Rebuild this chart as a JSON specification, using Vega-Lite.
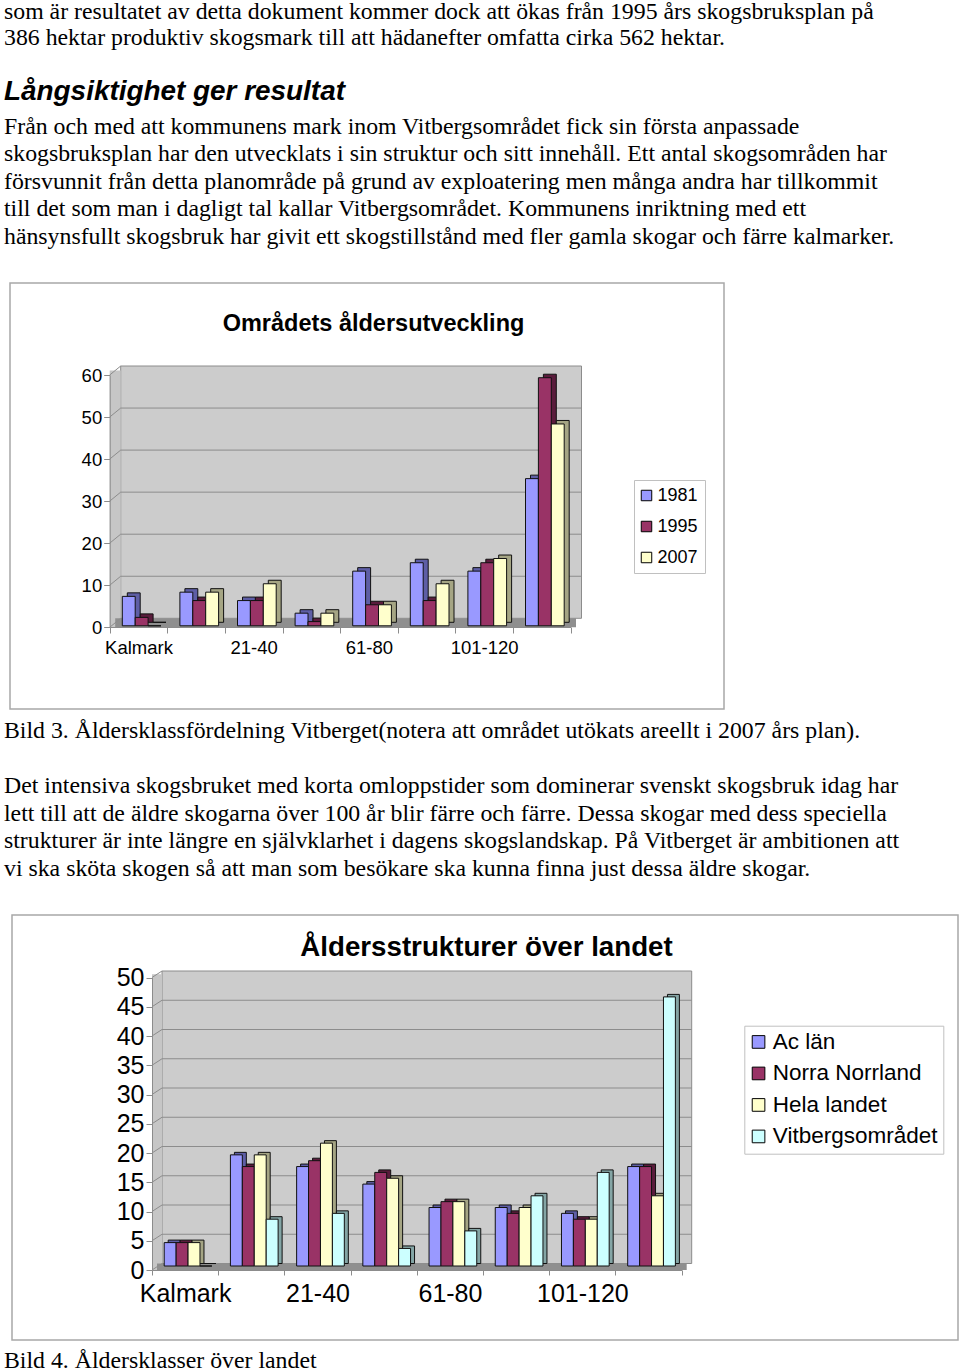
{
  "$schema": "https://vega.github.io/schema/vega-lite/v6.json",
  "background": "white",
  "padding": {"left": 4, "top": 0, "right": 0, "bottom": 0},
  "spacing": 0,
  "bounds": "flush",
  "vconcat": [
    {
      "width": 956,
      "height": 283,
      "layer": [
        {
          "data": {"values": [
            {"line": 1, "text": "som är resultatet av detta dokument kommer dock att ökas från 1995 års skogsbruksplan på"},
            {"line": 2, "text": "386 hektar produktiv skogsmark till att hädanefter omfatta cirka 562 hektar."}
          ]},
          "mark": {"type": "text", "align": "left", "baseline": "alphabetic", "font": "Liberation Serif", "fontSize": 23.8, "color": "#000"},
          "encoding": {
            "x": {"value": 0},
            "y": {"field": "line", "type": "quantitative", "scale": {"domain": [1, 2], "range": [19.2, 44.8], "nice": false, "zero": false}, "axis": null},
            "text": {"field": "text"}
          }
        },
        {
          "data": {"values": [{"line": 1, "text": "Långsiktighet ger resultat"}]},
          "mark": {"type": "text", "align": "left", "baseline": "alphabetic", "font": "Liberation Sans", "fontSize": 27.9, "fontWeight": "bold", "fontStyle": "italic", "color": "#000"},
          "encoding": {
            "x": {"value": 0},
            "y": {"field": "line", "type": "quantitative", "scale": {"domain": [0, 1], "range": [0, 99.5], "nice": false, "zero": false}, "axis": null},
            "text": {"field": "text"}
          }
        },
        {
          "data": {"values": [
            {"line": 3, "text": "Från och med att kommunens mark inom Vitbergsområdet fick sin första anpassade"},
            {"line": 4, "text": "skogsbruksplan har den utvecklats i sin struktur och sitt innehåll. Ett antal skogsområden har"},
            {"line": 5, "text": "försvunnit från detta planområde på grund av exploatering men många andra har tillkommit"},
            {"line": 6, "text": "till det som man i dagligt tal kallar Vitbergsområdet. Kommunens inriktning med ett"},
            {"line": 7, "text": "hänsynsfullt skogsbruk har givit ett skogstillstånd med fler gamla skogar och färre kalmarker."}
          ]},
          "mark": {"type": "text", "align": "left", "baseline": "alphabetic", "font": "Liberation Serif", "fontSize": 23.8, "color": "#000"},
          "encoding": {
            "x": {"value": 0},
            "y": {"field": "line", "type": "quantitative", "scale": {"domain": [3, 7], "range": [133.8, 243.5], "nice": false, "zero": false}, "axis": null},
            "text": {"field": "text"}
          }
        }
      ],
      "resolve": {"scale": {"y": "independent"}}
    },
    {
      "width": 720,
      "height": 426,
      "title": {"text": "Områdets åldersutveckling", "font": "Liberation Sans", "fontSize": 23.5, "fontWeight": "bold", "color": "#000", "anchor": "middle", "frame": "group", "orient": "top", "baseline": "alphabetic", "offset": -72.7, "dx": 9.5},
      "layer": [
        {
          "data": {"values": [{}]},
          "mark": {"type": "rect", "fill": "transparent", "stroke": "#A8A8A8", "strokeWidth": 1.5},
          "encoding": {
            "x": {"datum": 0, "type": "quantitative", "scale": {"domain": [0, 1], "range": [6, 720], "nice": false, "zero": false}, "axis": null},
            "x2": {"datum": 1},
            "y": {"datum": 0, "type": "quantitative", "scale": {"domain": [0, 1], "range": [0, 426], "nice": false, "zero": false}, "axis": null},
            "y2": {"datum": 1}
          }
        },
        {
          "layer": [
            {
              "data": {"values": [{}]},
              "mark": {"type": "rect", "fill": "#CCCCCC", "stroke": "#8C8C8C", "strokeWidth": 1, "xOffset": 11, "x2Offset": 11, "yOffset": -9, "y2Offset": -9},
              "encoding": {
                "x": {"datum": 0, "type": "quantitative", "scale": {"domain": [0, 1], "range": [105.7, 566.5], "nice": false, "zero": false}, "axis": null},
                "x2": {"datum": 1},
                "y": {"datum": 60, "type": "quantitative", "scale": {"domain": [0, 60], "range": [344.3, 92], "nice": false, "zero": false}, "axis": null},
                "y2": {"datum": 0}
              }
            },
            {
              "data": {"values": [{}]},
              "mark": {"type": "rect", "fill": "#C6C6C6", "x2Offset": 11, "yOffset": -4.5},
              "encoding": {
                "x": {"datum": 0, "type": "quantitative", "axis": null},
                "x2": {"datum": 0},
                "y": {"datum": 60, "type": "quantitative", "axis": null},
                "y2": {"datum": 0}
              }
            },
            {
              "data": {"values": [{}]},
              "mark": {"type": "rect", "fill": "#8F8F8F", "xOffset": 5.5, "x2Offset": 5.5, "yOffset": -9},
              "encoding": {
                "x": {"datum": 0, "type": "quantitative", "axis": null},
                "x2": {"datum": 1},
                "y": {"datum": 0, "type": "quantitative", "axis": null},
                "y2": {"datum": 0}
              }
            },
            {
              "data": {"values": [{"v": 10}, {"v": 20}, {"v": 30}, {"v": 40}, {"v": 50}]},
              "mark": {"type": "rule", "stroke": "#8C8C8C", "strokeWidth": 1, "xOffset": 11, "x2Offset": 11, "yOffset": -9},
              "encoding": {
                "x": {"datum": 0, "type": "quantitative", "axis": null},
                "x2": {"datum": 1},
                "y": {"field": "v", "type": "quantitative", "axis": null}
              }
            },
            {
              "data": {"values": [{"v": 0}, {"v": 10}, {"v": 20}, {"v": 30}, {"v": 40}, {"v": 50}, {"v": 60}]},
              "mark": {"type": "rule", "stroke": "#8C8C8C", "strokeWidth": 1, "x2Offset": 11, "y2Offset": -9},
              "encoding": {
                "x": {"datum": 0, "type": "quantitative", "axis": null},
                "x2": {"datum": 0},
                "y": {"field": "v", "type": "quantitative", "axis": null},
                "y2": {"field": "v"}
              }
            }
          ]
        },
        {
          "data": {"values": [
            {"cat": "Kalmark", "series": "1981", "value": 7},
            {"cat": "1-20", "series": "1981", "value": 8},
            {"cat": "21-40", "series": "1981", "value": 6},
            {"cat": "41-60", "series": "1981", "value": 3},
            {"cat": "61-80", "series": "1981", "value": 13},
            {"cat": "81-100", "series": "1981", "value": 15},
            {"cat": "101-120", "series": "1981", "value": 13},
            {"cat": "121-", "series": "1981", "value": 35},
            {"cat": "Kalmark", "series": "1995", "value": 2},
            {"cat": "1-20", "series": "1995", "value": 6},
            {"cat": "21-40", "series": "1995", "value": 6},
            {"cat": "41-60", "series": "1995", "value": 1},
            {"cat": "61-80", "series": "1995", "value": 5},
            {"cat": "81-100", "series": "1995", "value": 6},
            {"cat": "101-120", "series": "1995", "value": 15},
            {"cat": "121-", "series": "1995", "value": 59},
            {"cat": "Kalmark", "series": "2007", "value": 0},
            {"cat": "1-20", "series": "2007", "value": 8},
            {"cat": "21-40", "series": "2007", "value": 10},
            {"cat": "41-60", "series": "2007", "value": 3},
            {"cat": "61-80", "series": "2007", "value": 5},
            {"cat": "81-100", "series": "2007", "value": 10},
            {"cat": "101-120", "series": "2007", "value": 16},
            {"cat": "121-", "series": "2007", "value": 48}
          ]},
          "layer": [
            {
              "mark": {"type": "bar", "stroke": "#111", "strokeWidth": 1, "yOffset": -5, "y2Offset": -5},
              "encoding": {
                "x": {"field": "cat", "type": "nominal", "sort": null, "scale": {"domain": ["Kalmark", "1-20", "21-40", "41-60", "61-80", "81-100", "101-120", "121-"], "range": [105.7, 566.5], "paddingInner": 0, "paddingOuter": 0}},
                "xOffset": {"field": "series", "type": "nominal", "scale": {"domain": ["1981", "1995", "2007"], "range": [17.6, 56.3], "paddingInner": 0, "paddingOuter": 0}},
                "y": {"field": "value", "type": "quantitative", "scale": {"domain": [0, 60], "range": [344.3, 92], "nice": false, "zero": false}},
                "color": {"field": "series", "type": "nominal", "scale": {"domain": ["1981", "1995", "2007"], "range": ["#5E5EA6", "#5A1C3C", "#A5A584"]}, "legend": null}
              }
            },
            {
              "mark": {"type": "bar", "stroke": "#111", "strokeWidth": 1, "yOffset": -1.5, "y2Offset": -1.5},
              "encoding": {
                "x": {"field": "cat", "type": "nominal", "sort": null, "scale": {"domain": ["Kalmark", "1-20", "21-40", "41-60", "61-80", "81-100", "101-120", "121-"], "range": [105.7, 566.5], "paddingInner": 0, "paddingOuter": 0},
                  "axis": {"orient": "bottom", "zindex": 1, "offset": -82, "tickBand": "extent", "labelAlign": "center", "labelFlush": false, "labelBaseline": "top", "labelExpr": "indexof(['Kalmark','21-40','61-80','101-120'], datum.label) >= 0 ? datum.label : ''", "labelOverlap": false, "labelAngle": 0, "tickSize": 6, "labelPadding": 5, "labelFont": "Liberation Sans", "labelFontSize": 18.5, "labelColor": "#000", "domainColor": "#8C8C8C", "tickColor": "#8C8C8C", "grid": false, "title": null}},
                "xOffset": {"field": "series", "type": "nominal", "scale": {"domain": ["1981", "1995", "2007"], "range": [12.6, 51.3], "paddingInner": 0, "paddingOuter": 0}},
                "y": {"field": "value", "type": "quantitative", "scale": {"domain": [0, 60], "range": [344.3, 92], "nice": false, "zero": false},
                  "axis": {"orient": "left", "zindex": 1, "offset": -105.7, "values": [0, 10, 20, 30, 40, 50, 60], "tickSize": 6, "labelPadding": 2, "labelFont": "Liberation Sans", "labelFontSize": 18.5, "labelColor": "#000", "domainColor": "#8C8C8C", "tickColor": "#8C8C8C", "grid": false, "title": null}},
                "color": {"field": "series", "type": "nominal", "scale": {"domain": ["1981", "1995", "2007"], "range": ["#9999FF", "#993366", "#FFFFCC"]},
                  "legend": {"orient": "none", "direction": "vertical", "legendX": 630, "legendY": 197, "title": null, "symbolType": "square", "symbolSize": 110, "symbolStrokeColor": "#000", "symbolStrokeWidth": 1, "symbolOffset": -3, "labelFont": "Liberation Sans", "labelFontSize": 18, "labelColor": "#000", "labelOffset": 2, "labelLimit": 300, "rowPadding": 13, "padding": 6.5, "strokeColor": "#C0C0C0", "fillColor": "#FFFFFF"}}
              }
            }
          ],
          "resolve": {"scale": {"xOffset": "independent", "color": "independent"}}
        }
      ],
      "resolve": {"scale": {"x": "independent", "y": "independent"}}
    },
    {
      "width": 956,
      "height": 206,
      "data": {"values": [
        {"line": 1, "text": "Bild 3. Åldersklassfördelning Vitberget(notera att området utökats areellt i 2007 års plan)."},
        {"line": 3, "text": "Det intensiva skogsbruket med korta omloppstider som dominerar svenskt skogsbruk idag har"},
        {"line": 4, "text": "lett till att de äldre skogarna över 100 år blir färre och färre. Dessa skogar med dess speciella"},
        {"line": 5, "text": "strukturer är inte längre en självklarhet i dagens skogslandskap. På Vitberget är ambitionen att"},
        {"line": 6, "text": "vi ska sköta skogen så att man som besökare ska kunna finna just dessa äldre skogar."}
      ]},
      "mark": {"type": "text", "align": "left", "baseline": "alphabetic", "font": "Liberation Serif", "fontSize": 23.8, "color": "#000"},
      "encoding": {
        "x": {"value": 0},
        "y": {"field": "line", "type": "quantitative", "scale": {"domain": [1, 6], "range": [29, 166.5], "nice": false, "zero": false}, "axis": null},
        "text": {"field": "text"}
      }
    },
    {
      "width": 954,
      "height": 425,
      "title": {"text": "Åldersstrukturer över landet", "font": "Liberation Sans", "fontSize": 27.7, "fontWeight": "bold", "color": "#000", "anchor": "middle", "frame": "group", "orient": "top", "baseline": "alphabetic", "offset": -69, "dx": 5.5},
      "layer": [
        {
          "data": {"values": [{}]},
          "mark": {"type": "rect", "fill": "transparent", "stroke": "#A8A8A8", "strokeWidth": 1.5},
          "encoding": {
            "x": {"datum": 0, "type": "quantitative", "scale": {"domain": [0, 1], "range": [8, 954], "nice": false, "zero": false}, "axis": null},
            "x2": {"datum": 1},
            "y": {"datum": 0, "type": "quantitative", "scale": {"domain": [0, 1], "range": [0, 425], "nice": false, "zero": false}, "axis": null},
            "y2": {"datum": 1}
          }
        },
        {
          "layer": [
            {
              "data": {"values": [{}]},
              "mark": {"type": "rect", "fill": "#CCCCCC", "stroke": "#8C8C8C", "strokeWidth": 1, "xOffset": 10, "x2Offset": 10, "yOffset": -6.5, "y2Offset": -6.5},
              "encoding": {
                "x": {"datum": 0, "type": "quantitative", "scale": {"domain": [0, 1], "range": [148, 677.7], "nice": false, "zero": false}, "axis": null},
                "x2": {"datum": 1},
                "y": {"datum": 50, "type": "quantitative", "scale": {"domain": [0, 50], "range": [355, 62.5], "nice": false, "zero": false}, "axis": null},
                "y2": {"datum": 0}
              }
            },
            {
              "data": {"values": [{}]},
              "mark": {"type": "rect", "fill": "#C6C6C6", "x2Offset": 10, "yOffset": -3.2},
              "encoding": {
                "x": {"datum": 0, "type": "quantitative", "axis": null},
                "x2": {"datum": 0},
                "y": {"datum": 50, "type": "quantitative", "axis": null},
                "y2": {"datum": 0}
              }
            },
            {
              "data": {"values": [{}]},
              "mark": {"type": "rect", "fill": "#8F8F8F", "xOffset": 5, "x2Offset": 5, "yOffset": -6.5},
              "encoding": {
                "x": {"datum": 0, "type": "quantitative", "axis": null},
                "x2": {"datum": 1},
                "y": {"datum": 0, "type": "quantitative", "axis": null},
                "y2": {"datum": 0}
              }
            },
            {
              "data": {"values": [{"v": 5}, {"v": 10}, {"v": 15}, {"v": 20}, {"v": 25}, {"v": 30}, {"v": 35}, {"v": 40}, {"v": 45}]},
              "mark": {"type": "rule", "stroke": "#8C8C8C", "strokeWidth": 1, "xOffset": 10, "x2Offset": 10, "yOffset": -6.5},
              "encoding": {
                "x": {"datum": 0, "type": "quantitative", "axis": null},
                "x2": {"datum": 1},
                "y": {"field": "v", "type": "quantitative", "axis": null}
              }
            },
            {
              "data": {"values": [{"v": 0}, {"v": 5}, {"v": 10}, {"v": 15}, {"v": 20}, {"v": 25}, {"v": 30}, {"v": 35}, {"v": 40}, {"v": 45}, {"v": 50}]},
              "mark": {"type": "rule", "stroke": "#8C8C8C", "strokeWidth": 1, "x2Offset": 10, "y2Offset": -6.5},
              "encoding": {
                "x": {"datum": 0, "type": "quantitative", "axis": null},
                "x2": {"datum": 0},
                "y": {"field": "v", "type": "quantitative", "axis": null},
                "y2": {"field": "v"}
              }
            }
          ]
        },
        {
          "data": {"values": [
            {"cat": "Kalmark", "series": "Ac län", "value": 4},
            {"cat": "1-20", "series": "Ac län", "value": 19},
            {"cat": "21-40", "series": "Ac län", "value": 17},
            {"cat": "41-60", "series": "Ac län", "value": 14},
            {"cat": "61-80", "series": "Ac län", "value": 10},
            {"cat": "81-100", "series": "Ac län", "value": 10},
            {"cat": "101-120", "series": "Ac län", "value": 9},
            {"cat": "121-", "series": "Ac län", "value": 17},
            {"cat": "Kalmark", "series": "Norra Norrland", "value": 4},
            {"cat": "1-20", "series": "Norra Norrland", "value": 17},
            {"cat": "21-40", "series": "Norra Norrland", "value": 18},
            {"cat": "41-60", "series": "Norra Norrland", "value": 16},
            {"cat": "61-80", "series": "Norra Norrland", "value": 11},
            {"cat": "81-100", "series": "Norra Norrland", "value": 9},
            {"cat": "101-120", "series": "Norra Norrland", "value": 8},
            {"cat": "121-", "series": "Norra Norrland", "value": 17},
            {"cat": "Kalmark", "series": "Hela landet", "value": 4},
            {"cat": "1-20", "series": "Hela landet", "value": 19},
            {"cat": "21-40", "series": "Hela landet", "value": 21},
            {"cat": "41-60", "series": "Hela landet", "value": 15},
            {"cat": "61-80", "series": "Hela landet", "value": 11},
            {"cat": "81-100", "series": "Hela landet", "value": 10},
            {"cat": "101-120", "series": "Hela landet", "value": 8},
            {"cat": "121-", "series": "Hela landet", "value": 12},
            {"cat": "Kalmark", "series": "Vitbergsområdet", "value": 0},
            {"cat": "1-20", "series": "Vitbergsområdet", "value": 8},
            {"cat": "21-40", "series": "Vitbergsområdet", "value": 9},
            {"cat": "41-60", "series": "Vitbergsområdet", "value": 3},
            {"cat": "61-80", "series": "Vitbergsområdet", "value": 6},
            {"cat": "81-100", "series": "Vitbergsområdet", "value": 12},
            {"cat": "101-120", "series": "Vitbergsområdet", "value": 16},
            {"cat": "121-", "series": "Vitbergsområdet", "value": 46}
          ]},
          "layer": [
            {
              "mark": {"type": "bar", "stroke": "#111", "strokeWidth": 1, "yOffset": -6.5, "y2Offset": -6.5},
              "encoding": {
                "x": {"field": "cat", "type": "nominal", "sort": null, "scale": {"domain": ["Kalmark", "1-20", "21-40", "41-60", "61-80", "81-100", "101-120", "121-"], "range": [148, 677.7], "paddingInner": 0, "paddingOuter": 0}},
                "xOffset": {"field": "series", "type": "nominal", "scale": {"domain": ["Ac län", "Norra Norrland", "Hela landet", "Vitbergsområdet"], "range": [16.2, 63.9], "paddingInner": 0, "paddingOuter": 0}},
                "y": {"field": "value", "type": "quantitative", "scale": {"domain": [0, 50], "range": [355, 62.5], "nice": false, "zero": false}},
                "color": {"field": "series", "type": "nominal", "scale": {"domain": ["Ac län", "Norra Norrland", "Hela landet", "Vitbergsområdet"], "range": ["#5E5EA6", "#5A1C3C", "#A5A584", "#84A5A5"]}, "legend": null}
              }
            },
            {
              "mark": {"type": "bar", "stroke": "#111", "strokeWidth": 1, "yOffset": -4, "y2Offset": -4},
              "encoding": {
                "x": {"field": "cat", "type": "nominal", "sort": null, "scale": {"domain": ["Kalmark", "1-20", "21-40", "41-60", "61-80", "81-100", "101-120", "121-"], "range": [148, 677.7], "paddingInner": 0, "paddingOuter": 0},
                  "axis": {"orient": "bottom", "zindex": 1, "offset": -70, "tickBand": "extent", "labelAlign": "center", "labelFlush": false, "labelBaseline": "top", "labelExpr": "indexof(['Kalmark','21-40','61-80','101-120'], datum.label) >= 0 ? datum.label : ''", "labelOverlap": false, "labelAngle": 0, "tickSize": 5, "labelPadding": 6, "labelFont": "Liberation Sans", "labelFontSize": 25, "labelColor": "#000", "domainColor": "#8C8C8C", "tickColor": "#8C8C8C", "grid": false, "title": null}},
                "xOffset": {"field": "series", "type": "nominal", "scale": {"domain": ["Ac län", "Norra Norrland", "Hela landet", "Vitbergsområdet"], "range": [12.2, 59.9], "paddingInner": 0, "paddingOuter": 0}},
                "y": {"field": "value", "type": "quantitative", "scale": {"domain": [0, 50], "range": [355, 62.5], "nice": false, "zero": false},
                  "axis": {"orient": "left", "zindex": 1, "offset": -148, "values": [0, 5, 10, 15, 20, 25, 30, 35, 40, 45, 50], "tickSize": 6, "labelPadding": 2, "labelFont": "Liberation Sans", "labelFontSize": 25, "labelColor": "#000", "domainColor": "#8C8C8C", "tickColor": "#8C8C8C", "grid": false, "title": null}},
                "color": {"field": "series", "type": "nominal", "scale": {"domain": ["Ac län", "Norra Norrland", "Hela landet", "Vitbergsområdet"], "range": ["#9999FF", "#993366", "#FFFFCC", "#CCFFFF"]},
                  "legend": {"orient": "none", "direction": "vertical", "legendX": 740.3, "legendY": 110.7, "title": null, "symbolType": "square", "symbolSize": 160, "symbolStrokeColor": "#000", "symbolStrokeWidth": 1, "symbolOffset": -2, "labelFont": "Liberation Sans", "labelFontSize": 22.5, "labelColor": "#000", "labelOffset": 3, "labelLimit": 300, "rowPadding": 8.5, "padding": 5, "strokeColor": "#C0C0C0", "fillColor": "#FFFFFF"}}
              }
            }
          ],
          "resolve": {"scale": {"xOffset": "independent", "color": "independent"}}
        }
      ],
      "resolve": {"scale": {"x": "independent", "y": "independent"}}
    },
    {
      "width": 956,
      "height": 31,
      "data": {"values": [{"line": 1, "text": "Bild 4. Åldersklasser över landet"}]},
      "mark": {"type": "text", "align": "left", "baseline": "alphabetic", "font": "Liberation Serif", "fontSize": 23.8, "color": "#000"},
      "encoding": {
        "x": {"value": 0},
        "y": {"field": "line", "type": "quantitative", "scale": {"domain": [0, 1], "range": [0, 28], "nice": false, "zero": false}, "axis": null},
        "text": {"field": "text"}
      }
    }
  ],
  "config": {"view": {"stroke": null}, "font": "Liberation Sans"}
}
